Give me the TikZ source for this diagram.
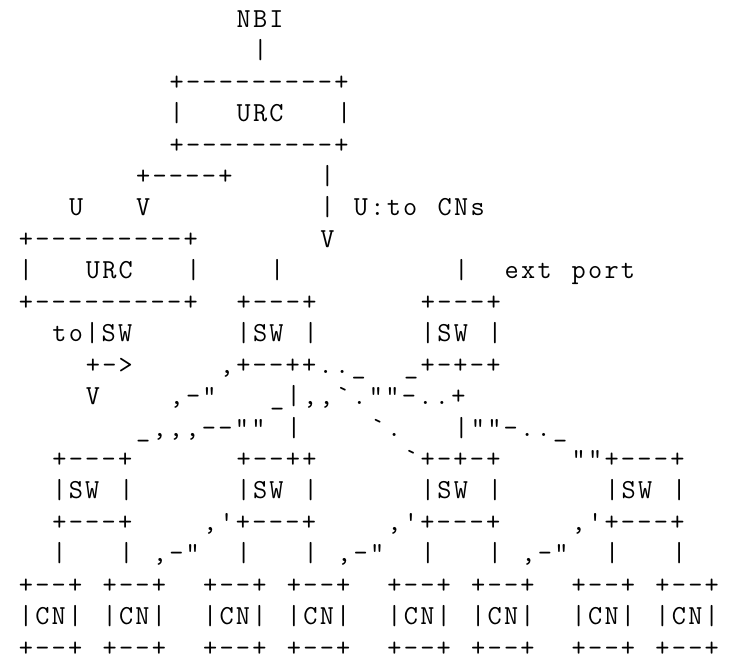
\documentclass[tikz,border=0pt]{standalone}
\usepackage{fontspec}
\newfontfamily\asc{Latin Modern Mono}[LetterSpace=8.4,Ligatures=NoCommon]
\newcommand\pw{16.75}
\newcommand\xo{18.8}
\newcommand\yo{27.2}
\newcommand\lh{31.45}
\newcommand\seg[3]{\node[asc] (r#1c#2) at ({\xo+#2*\pw},{-\yo-(#1-1)*\lh}) {#3};}
\begin{document}
\begin{tikzpicture}[x=1pt,y=1pt]
\tikzset{asc/.style={anchor=base west,inner sep=0pt,outer sep=0pt,
  font=\asc\fontsize{27.5}{31.5}\selectfont,text=black}}
\useasboundingbox (0,0) rectangle (735,-661);
% top controller
\seg{1}{13}{NBI}
\seg{2}{14}{|}
\seg{3}{9}{+---------+}
\seg{4}{9}{|}\seg{4}{13}{URC}\seg{4}{19}{|}
\seg{5}{9}{+---------+}
\seg{6}{7}{+----+}\seg{6}{18}{|}
\seg{7}{3}{U}\seg{7}{7}{V}\seg{7}{18}{|}\seg{7}{20}{U:to}\seg{7}{25}{CNs}
% second controller
\seg{8}{0}{+---------+}\seg{8}{18}{V}
\seg{9}{0}{|}\seg{9}{4}{URC}\seg{9}{10}{|}\seg{9}{15}{|}\seg{9}{26}{|}\seg{9}{29}{ext}\seg{9}{33}{port}
\seg{10}{0}{+---------+}\seg{10}{13}{+---+}\seg{10}{24}{+---+}
\seg{11}{2}{to|SW}\seg{11}{13}{|SW}\seg{11}{17}{|}\seg{11}{24}{|SW}\seg{11}{28}{|}
\seg{12}{4}{+->}\seg{12}{12}{,+--++..\_}\seg{12}{23}{\_+-+-+}
\seg{13}{4}{V}\seg{13}{9}{,-"}\seg{13}{15}{\_|,,`.""-..+}
\seg{14}{7}{\_,,,--""}\seg{14}{16}{|}\seg{14}{21}{`.}\seg{14}{26}{|""-..\_}
\seg{15}{2}{+---+}\seg{15}{13}{+--++}\seg{15}{23}{`+-+-+}\seg{15}{33}{""+---+}
\seg{16}{2}{|SW}\seg{16}{6}{|}\seg{16}{13}{|SW}\seg{16}{17}{|}\seg{16}{24}{|SW}\seg{16}{28}{|}\seg{16}{35}{|SW}\seg{16}{39}{|}
\seg{17}{2}{+---+}\seg{17}{11}{,'+---+}\seg{17}{22}{,'+---+}\seg{17}{33}{,'+---+}
\seg{18}{2}{|}\seg{18}{6}{|}\seg{18}{8}{,-"}\seg{18}{13}{|}\seg{18}{17}{|}\seg{18}{19}{,-"}\seg{18}{24}{|}\seg{18}{28}{|}\seg{18}{30}{,-"}\seg{18}{35}{|}\seg{18}{39}{|}
% compute nodes
\foreach \c in {0,5,11,16,22,27,33,38}{
  \seg{19}{\c}{+--+}
  \seg{20}{\c}{|CN|}
  \seg{21}{\c}{+--+}
}
\end{tikzpicture}
\end{document}
